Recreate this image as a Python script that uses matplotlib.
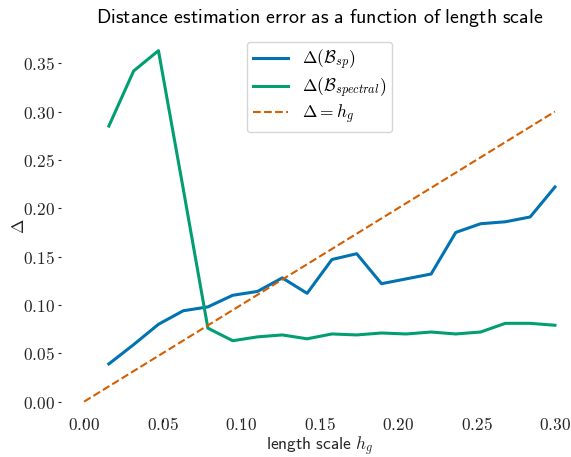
import matplotlib
matplotlib.use("Agg")
import matplotlib.pyplot as plt
from matplotlib.ticker import FuncFormatter

# values
length_scale = [0.0158, 0.0316, 0.0474, 0.0632, 0.0789, 0.0947, 0.1105, 0.1263, 0.1421,
                0.1579, 0.1737, 0.1895, 0.2053, 0.2211, 0.2368, 0.2526, 0.2684, 0.2842, 0.3000]
delta_sp = [0.039, 0.059, 0.080, 0.094, 0.098, 0.110, 0.114, 0.128, 0.112, 0.147,
            0.153, 0.122, 0.127, 0.132, 0.175, 0.184, 0.186, 0.191, 0.222]
delta_spectral = [0.285, 0.342, 0.363, 0.220, 0.076, 0.063, 0.067, 0.069, 0.065, 0.070,
                  0.069, 0.071, 0.070, 0.072, 0.070, 0.072, 0.081, 0.081, 0.079]
diag_h = [0.0, 0.3]

BLUE, GREEN, ORANGE = "#0173b2", "#029e73", "#d55e00"
INK = "#262626"

plt.rcParams.update({
    "mathtext.fontset": "cm",
    "font.size": 12,
    "xtick.color": INK, "ytick.color": INK,
    "xtick.major.size": 2, "ytick.major.size": 2,
    "xtick.major.width": 0.8, "ytick.major.width": 0.8,
})

W, H = 571, 457
fig = plt.figure(figsize=(W / 100, H / 100), dpi=100)
ax = fig.add_axes([60.5 / W, 1 - 419.2 / H, 518 / W, 386.1 / H])

ax.plot(length_scale, delta_sp, color=BLUE, lw=2.2, label=r"$\Delta(\mathcal{B}_{sp})$")
ax.plot(length_scale, delta_spectral, color=GREEN, lw=2.2,
        label=r"$\Delta(\mathcal{B}_{spectral})$")
ax.plot(diag_h, diag_h, color=ORANGE, lw=1.5, ls="--", label=r"$\Delta = h_g$")

for s in ax.spines.values():
    s.set_visible(False)
ax.set_xticks([0.0, 0.05, 0.10, 0.15, 0.20, 0.25, 0.30])
ax.set_yticks([0.0, 0.05, 0.10, 0.15, 0.20, 0.25, 0.30, 0.35])
fmt = FuncFormatter(lambda v, _: rf"${v:.2f}$")
ax.xaxis.set_major_formatter(fmt)
ax.yaxis.set_major_formatter(fmt)
ax.tick_params(labelsize=12.5)
ax.tick_params(axis="y", pad=2)
ax.tick_params(axis="x", pad=-4)

ax.set_title(r"$\mathsf{Distance\ estimation\ error\ as\ a\ function\ of\ length\ scale}$",
             fontsize=14.4, color="black", pad=7)
ax.set_xlabel(r"$\mathsf{length\ scale}\ h_g$", fontsize=12.5, labelpad=0, color=INK)
ax.set_ylabel(r"$\Delta$", fontsize=12.5, labelpad=-4, color=INK)

ax.legend(loc="upper center", fontsize=12.5, framealpha=0.8, edgecolor="#cccccc",
          labelspacing=0.2, borderpad=0.35)

fig.savefig("out.png", dpi=100)
